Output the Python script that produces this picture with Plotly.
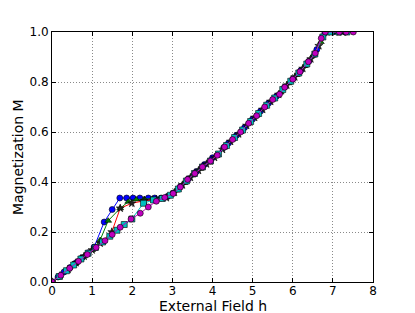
import plotly.graph_objects as go

# Blue circles
h_blue = [0, 0.15, 0.3, 0.45, 0.6, 0.75, 0.9, 1.05, 1.3, 1.5, 1.69, 1.86, 2.02, 2.19, 2.4, 2.56, 2.72, 2.88,
          3.02, 3.2, 3.4, 3.6, 3.8, 4.0, 4.28, 4.4, 4.6, 4.8, 5.0, 5.2, 5.4, 5.6, 5.8, 6.0, 6.2, 6.4, 6.6, 6.8,
          7.0, 7.15, 7.3]
m_blue = [0, 0.02, 0.04, 0.058, 0.077, 0.097, 0.117, 0.14, 0.24, 0.29, 0.336, 0.336, 0.336, 0.336, 0.336, 0.336,
          0.336, 0.342, 0.356, 0.382, 0.413, 0.442, 0.47, 0.497, 0.538, 0.556, 0.587, 0.618, 0.652, 0.684, 0.716,
          0.744, 0.78, 0.812, 0.846, 0.883, 0.93, 0.995, 1.0, 1.0, 1.0]

# Green triangles
h_green = [0, 0.2, 0.4, 0.6, 0.8, 1.0, 1.2, 1.4, 1.7, 1.9, 2.1, 2.3, 2.5, 2.7, 2.9, 3.1, 3.3, 3.5, 3.7,
           3.9, 4.1, 4.3, 4.5, 4.7, 4.9, 5.1, 5.3, 5.5, 5.7, 5.9, 6.1, 6.3, 6.5, 6.7, 6.9, 7.1, 7.3]
m_green = [0, 0.025, 0.05, 0.077, 0.103, 0.128, 0.168, 0.245, 0.295, 0.321, 0.33, 0.332, 0.333, 0.335, 0.343,
           0.366, 0.396, 0.426, 0.453, 0.478, 0.505, 0.538, 0.57, 0.6, 0.634, 0.666, 0.7, 0.73, 0.758, 0.795,
           0.828, 0.864, 0.905, 0.96, 1.0, 1.0, 1.0]

# Red stars
h_red = [0, 0.2, 0.4, 0.6, 0.8, 1.0, 1.2, 1.49, 1.7, 1.99, 2.3, 2.6, 2.85, 3.05, 3.25, 3.45, 3.65, 3.85,
         4.05, 4.25, 4.45, 4.65, 4.85, 5.05, 5.25, 5.45, 5.65, 5.85, 6.05, 6.25, 6.45, 6.65, 6.85, 7.05, 7.25]
m_red = [0, 0.025, 0.05, 0.077, 0.103, 0.128, 0.155, 0.20, 0.295, 0.315, 0.325, 0.33, 0.337, 0.358, 0.388,
         0.418, 0.446, 0.472, 0.498, 0.53, 0.562, 0.592, 0.626, 0.658, 0.69, 0.722, 0.75, 0.787, 0.82, 0.854,
         0.892, 0.945, 1.0, 1.0, 1.0]

# Cyan squares
h_cyan = [0, 0.18, 0.36, 0.54, 0.72, 0.9, 1.08, 1.26, 1.44, 1.62, 1.8, 1.99, 2.28, 2.53, 2.75, 2.95, 3.15,
          3.35, 3.55, 3.75, 3.95, 4.15, 4.35, 4.55, 4.75, 4.95, 5.15, 5.35, 5.55, 5.75, 5.95, 6.15, 6.35,
          6.55, 6.75, 6.95, 7.15, 7.35]
m_cyan = [0, 0.022, 0.045, 0.068, 0.092, 0.115, 0.138, 0.16, 0.183, 0.207, 0.23, 0.252, 0.315, 0.328, 0.334,
          0.347, 0.372, 0.404, 0.434, 0.46, 0.484, 0.512, 0.546, 0.578, 0.608, 0.642, 0.674, 0.707, 0.736,
          0.77, 0.803, 0.836, 0.872, 0.912, 0.98, 1.0, 1.0, 1.0]

# Magenta circles
h_mag = [0, 0.22, 0.44, 0.66, 0.88, 1.1, 1.32, 1.5, 1.7, 1.97, 2.2, 2.4, 2.6, 2.81, 3.02, 3.2, 3.38, 3.56,
         3.75, 3.95, 4.12, 4.3, 4.5, 4.7, 4.9, 5.1, 5.3, 5.5, 5.67, 5.8, 6.0, 6.18, 6.39, 6.56, 6.71, 6.81,
         7.16, 7.33, 7.51]
m_mag = [0, 0.027, 0.055, 0.083, 0.11, 0.138, 0.165, 0.19, 0.219, 0.252, 0.275, 0.3, 0.323, 0.338, 0.354,
         0.38, 0.41, 0.434, 0.46, 0.484, 0.507, 0.54, 0.57, 0.6, 0.635, 0.665, 0.7, 0.73, 0.751, 0.779, 0.811,
         0.841, 0.881, 0.915, 0.975, 1.0, 1.0, 1.0, 1.0]

x_ticks = [0, 1, 2, 3, 4, 5, 6, 7, 8]
y_ticks = [0.0, 0.2, 0.4, 0.6, 0.8, 1.0]

series = [
    ("blue", h_blue, m_blue, "#0000ff", "circle", "#0000ff"),
    ("green", h_green, m_green, "#008000", "triangle-up", "#008000"),
    ("red", h_red, m_red, "#ff0000", "star", "#222222"),
    ("cyan", h_cyan, m_cyan, "#00bfbf", "square", "#00bfbf"),
    ("magenta", h_mag, m_mag, "#bf00bf", "circle", "#bf00bf"),
]

fig = go.Figure()
for name, hx, my, col, sym, mcol in series:
    fig.add_trace(go.Scatter(
        x=hx, y=my, mode="lines+markers", name=name,
        line=dict(color=col, width=1),
        marker=dict(symbol=sym, size=6, color=mcol, line=dict(color="black", width=0.6)),
    ))

axis_common = dict(
    showline=True, linecolor="black", linewidth=1, mirror="ticks",
    ticks="inside", ticklen=4, tickcolor="black", automargin=False,
    showgrid=True, gridcolor="#8a8a8a", griddash="1px,2px", gridwidth=1,
    zeroline=False, tickfont=dict(family="DejaVu Sans", size=12, color="black"),
)

fig.update_layout(
    width=415, height=313,
    margin=dict(l=44, r=50, t=24, b=39),
    paper_bgcolor="white", plot_bgcolor="white",
    showlegend=False,
    font=dict(family="DejaVu Sans", color="black"),
    xaxis=dict(range=[0, 8], tickvals=x_ticks, ticktext=[str(v) for v in x_ticks],
               ticklabelstandoff=-2, **axis_common),
    yaxis=dict(range=[0, 1], tickvals=y_ticks, ticktext=[f"{v:.1f}" for v in y_ticks], **axis_common),
    annotations=[
        dict(text="External Field h", xref="paper", yref="paper", x=0.5, y=0, yshift=-14,
             xanchor="center", yanchor="top", showarrow=False, font=dict(size=14)),
        dict(text="Magnetization M", xref="paper", yref="paper", x=0, y=0.5, xshift=-34,
             xanchor="center", yanchor="middle", textangle=-90, showarrow=False, font=dict(size=14)),
    ],
)

fig.write_html("out.html")
